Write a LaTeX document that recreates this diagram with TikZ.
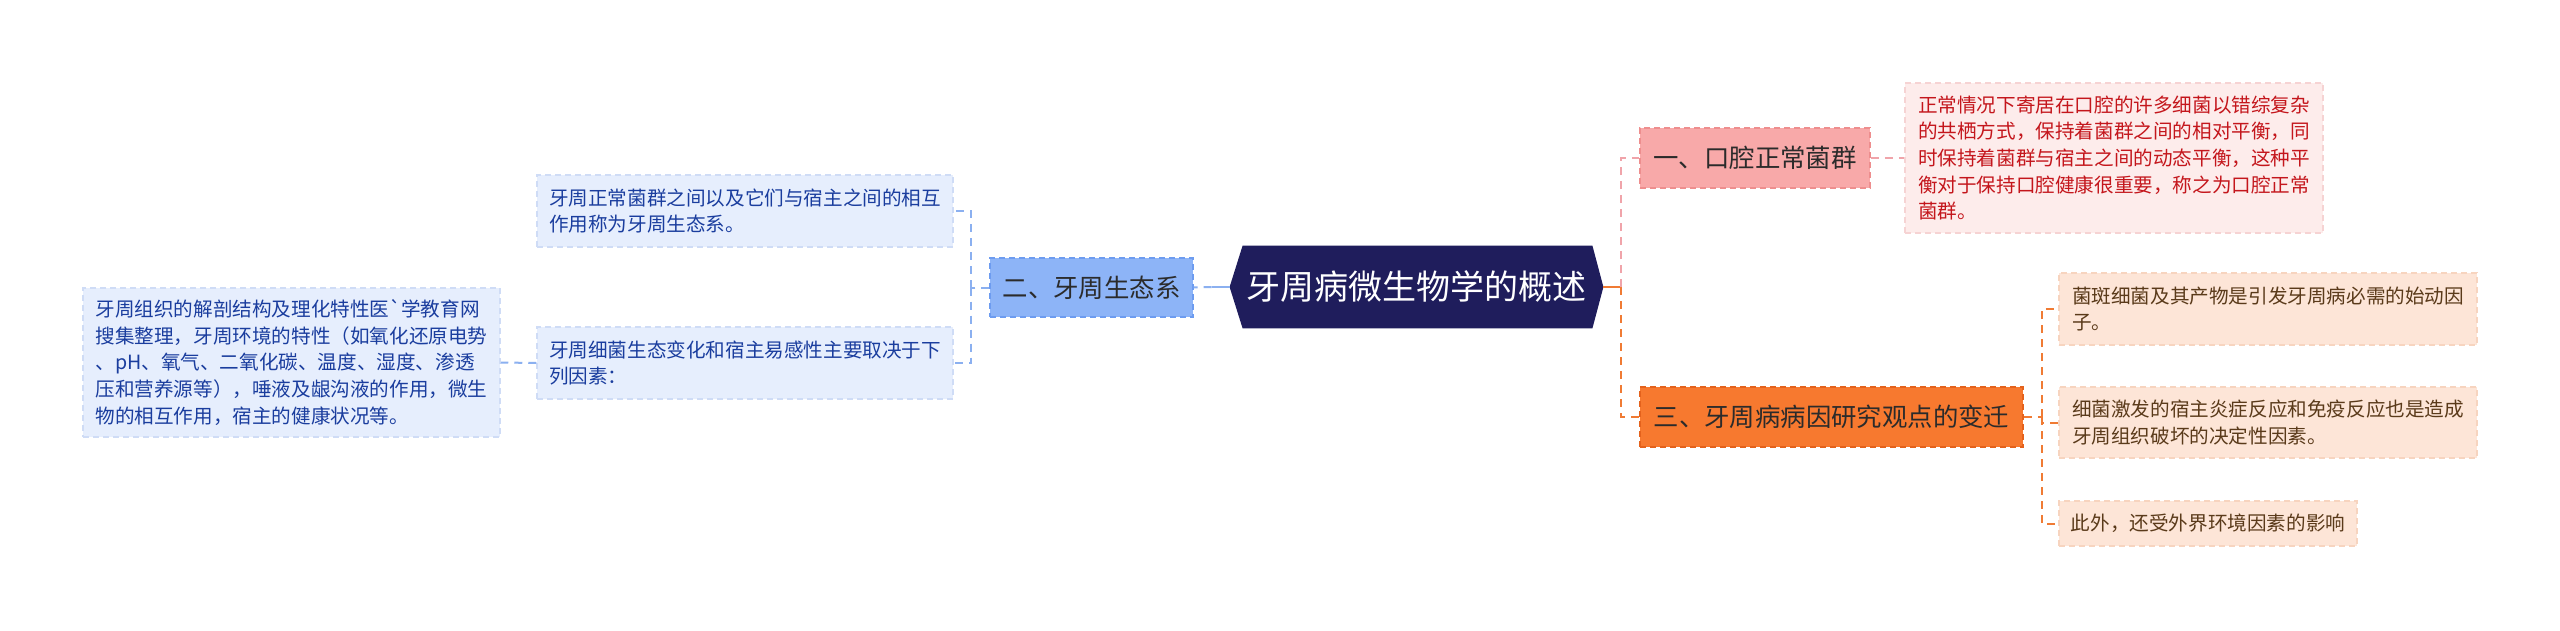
\documentclass[tikz,border=0pt]{standalone}
\usepackage{fontspec}
\setmainfont{Noto Sans CJK SC}[Ligatures=TeXOff]
\usetikzlibrary{backgrounds}
\definecolor{navy}{HTML}{1F1D5C}
\definecolor{pinkF}{HTML}{F8A9A9}
\definecolor{pinkB}{HTML}{EE8E8E}
\definecolor{pinkL}{HTML}{F0A4AA}
\definecolor{pinkLeafF}{HTML}{FDECEB}
\definecolor{pinkLeafB}{HTML}{F6D3D3}
\definecolor{pinkLeafT}{HTML}{C4161C}
\definecolor{orF}{HTML}{F7792F}
\definecolor{orB}{HTML}{E4621C}
\definecolor{orL}{HTML}{F07B34}
\definecolor{orLeafF}{HTML}{FDE5D7}
\definecolor{orLeafB}{HTML}{F7D4BF}
\definecolor{orLeafT}{HTML}{5A3A1A}
\definecolor{blF}{HTML}{8DB4F7}
\definecolor{blB}{HTML}{6D9CF0}
\definecolor{blL}{HTML}{8BB0F0}
\definecolor{blLeafF}{HTML}{E6EEFD}
\definecolor{blLeafB}{HTML}{CFDCF6}
\definecolor{blLeafT}{HTML}{1A3D9E}
\definecolor{darkT}{HTML}{2B2B2B}
\tikzset{
  box/.style={rectangle, inner sep=0pt, align=left, line width=0.75pt, dash pattern=on 3pt off 2pt},
  lvlone/.style={box, font=\fontsize{12.7}{15}\selectfont, text=darkT},
  leafbox/.style={box, font=\fontsize{9.8}{13.35}\selectfont},
  conn/.style={line width=1pt, dash pattern=on 4pt off 3pt},
  solidconn/.style={line width=1pt},
}
\begin{document}
\begin{tikzpicture}[x=0.5pt,y=-0.5pt]
\useasboundingbox (0,0) rectangle (2560,631);

% central node
\node[font=\fontsize{17}{20}\selectfont, text=white, minimum width=186.5pt, minimum height=41pt, inner sep=0pt] (n0) at (1416.5,287) {牙周病微生物学的概述};
\begin{scope}[on background layer]
\fill[white] (0,0) rectangle (2560,631);
\fill[navy] (n0.west) -- ([xshift=6.5pt]n0.north west) -- ([xshift=-5.5pt]n0.north east) -- (n0.east) -- ([xshift=-5.5pt]n0.south east) -- ([xshift=6.5pt]n0.south west) -- cycle;
\end{scope}

% first level
\node[lvlone, fill=pinkF, draw=pinkB, minimum width=115pt, minimum height=30pt] (n1) at (1755,158) {一、口腔正常菌群};
\node[lvlone, fill=orF, draw=orB, minimum width=191.5pt, minimum height=30pt] (n3) at (1831.5,417) {三、牙周病病因研究观点的变迁};
\node[lvlone, fill=blF, draw=blB, minimum width=101.5pt, minimum height=29.5pt] (n2) at (1091.5,287.5) {二、牙周生态系};

% leaves of n1
\node[leafbox, fill=pinkLeafF, draw=pinkLeafB, text=pinkLeafT, minimum width=209pt, minimum height=75pt] (la) at (2114,158) {正常情况下寄居在口腔的许多细菌以错综复杂\\的共栖方式，保持着菌群之间的相对平衡，同\\时保持着菌群与宿主之间的动态平衡，这种平\\衡对于保持口腔健康很重要，称之为口腔正常\\菌群。};

% leaves of n3
\node[leafbox, fill=orLeafF, draw=orLeafB, text=orLeafT, minimum width=209pt, minimum height=36pt] (b1) at (2268,309) {菌斑细菌及其产物是引发牙周病必需的始动因\\子。};
\node[leafbox, fill=orLeafF, draw=orLeafB, text=orLeafT, minimum width=209pt, minimum height=35.5pt] (b2) at (2268,422.5) {细菌激发的宿主炎症反应和免疫反应也是造成\\牙周组织破坏的决定性因素。};
\node[leafbox, fill=orLeafF, draw=orLeafB, text=orLeafT, minimum width=149pt, minimum height=22.5pt] (b3) at (2208,523.5) {此外，还受外界环境因素的影响};

% children of n2
\node[leafbox, fill=blLeafF, draw=blLeafB, text=blLeafT, minimum width=208pt, minimum height=36pt] (c1) at (745,211) {牙周正常菌群之间以及它们与宿主之间的相互\\作用称为牙周生态系。};
\node[leafbox, fill=blLeafF, draw=blLeafB, text=blLeafT, minimum width=208pt, minimum height=36pt] (c2) at (745,363) {牙周细菌生态变化和宿主易感性主要取决于下\\列因素：};
\node[leafbox, fill=blLeafF, draw=blLeafB, text=blLeafT, minimum width=208.5pt, minimum height=74.5pt] (d1) at (291.5,362.5) {牙周组织的解剖结构及理化特性医`学教育网\\搜集整理，牙周环境的特性（如氧化还原电势\\、pH、氧气、二氧化碳、温度、湿度、渗透\\压和营养源等），唾液及龈沟液的作用，微生\\物的相互作用，宿主的健康状况等。};

% connectors right
\draw[solidconn, orL] (n0.east) -- ++(18,0) coordinate (j1);
\draw[conn, pinkL] (j1) |- (n1.west);
\draw[conn, orL] (j1) |- (n3.west);
\draw[conn, pinkL] (n1.east) -- (la.west);
\draw[conn, orL] (n3.east) -- ++(18,0) coordinate (j3);
\draw[conn, orL] (j3) |- (b1.west);
\draw[conn, orL] (j3) |- (b2.west);
\draw[conn, orL] (j3) |- (b3.west);

% connectors left
\draw[solidconn, blL] (n0.west) -- ++(-18,0) coordinate (j0);
\draw[conn, blL] (j0) -- (n2.east);
\draw[conn, blL] (n2.west) -- ++(-18,0) coordinate (j2);
\draw[conn, blL] (j2) |- (c1.east);
\draw[conn, blL] (j2) |- (c2.east);
\draw[conn, blL] (c2.west) -- (d1.east);
\end{tikzpicture}
\end{document}
